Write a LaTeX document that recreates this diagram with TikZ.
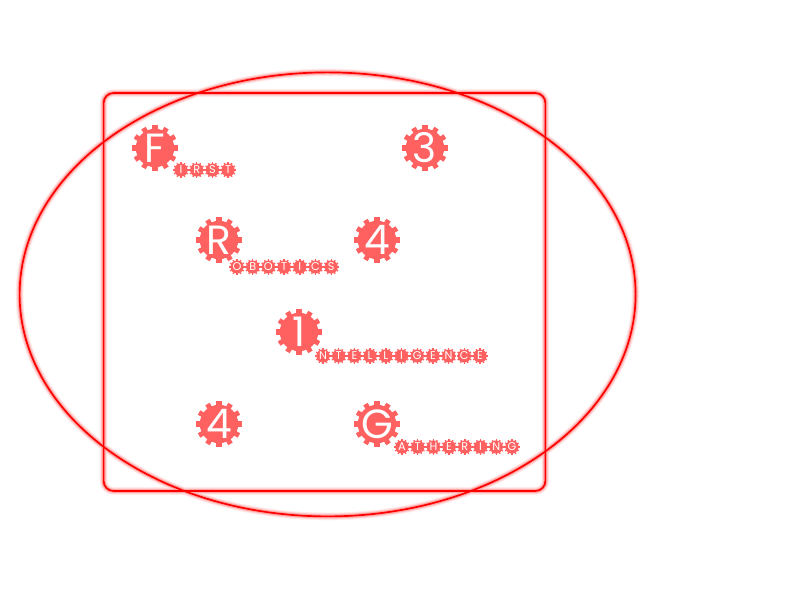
\documentclass[tikz,border=0pt]{standalone}
\usepackage{fontspec}
\setmainfont{Poppins}
\definecolor{gearred}{HTML}{FF6060}
\tikzset{
  bigdisc/.style={circle,fill=gearred,text=white,inner sep=0pt,outer sep=0pt,minimum size=0.96cm,font=\fontsize{29}{29}\selectfont},
  smalldisc/.style={circle,fill=gearred,text=white,inner sep=0pt,outer sep=0pt,minimum size=0.33cm,font=\fontsize{8}{8}\selectfont},
  bigtooth/.style={gearred,line width=3.6pt},
  smalltooth/.style={gearred,line width=1pt},
  glowA/.style={red!7,line width=5.5pt},
  glowB/.style={red!16,line width=4.2pt},
  glowC/.style={red!35,line width=2.8pt},
  redline/.style={red,line width=1.2pt}
}
% one big gear: name, position, letter
\newcommand{\biggear}[3]{
  \node[bigdisc] (#1) at (#2) {\makebox[0pt]{#3}};
  \foreach \a in {0,30,...,330}
    \draw[bigtooth] (#1.\a) ++(\a:-0.03) -- ++(\a:0.125);
}
% a row of small gears: name, x, y, letters
\newcommand{\gearrow}[4]{
  \foreach \l [count=\i] in {#4} {
    \node[smalldisc] (#1\i) at ({#2+(\i-1)*0.3925},#3) {\makebox[0pt]{\l}};
    \foreach \a in {0,30,...,330}
      \draw[smalltooth] (#1\i.\a) ++(\a:-0.01) -- ++(\a:0.04);
  }
}

\begin{document}
\begin{tikzpicture}
\useasboundingbox (0,0) rectangle (20,15);

% frame and ring
\foreach \s in {glowA,glowB,glowC,redline} {
  \draw[\s,rounded corners=0.25cm] (2.59,2.725) rectangle (13.635,12.675);
  \draw[\s] (8.19,7.64) ellipse (7.7 and 5.55);
}

\biggear{gearF}{3.875,11.3}{F}
\biggear{gearthree}{10.625,11.3}{3}
\biggear{gearR}{5.475,9}{R}
\biggear{gearfourA}{9.425,9}{4}
\biggear{gearone}{7.475,6.7}{1}
\biggear{gearfourB}{5.475,4.4}{4}
\biggear{gearG}{9.425,4.4}{G}

\gearrow{first}{4.525}{10.75}{I,R,S,T}
\gearrow{robotics}{5.925}{8.325}{O,B,O,T,I,C,S}
\gearrow{intel}{8.075}{6.1}{N,T,E,L,L,I,G,E,N,C,E}
\gearrow{gather}{10.05}{3.825}{A,T,H,E,R,I,N,G}
\end{tikzpicture}
\end{document}
